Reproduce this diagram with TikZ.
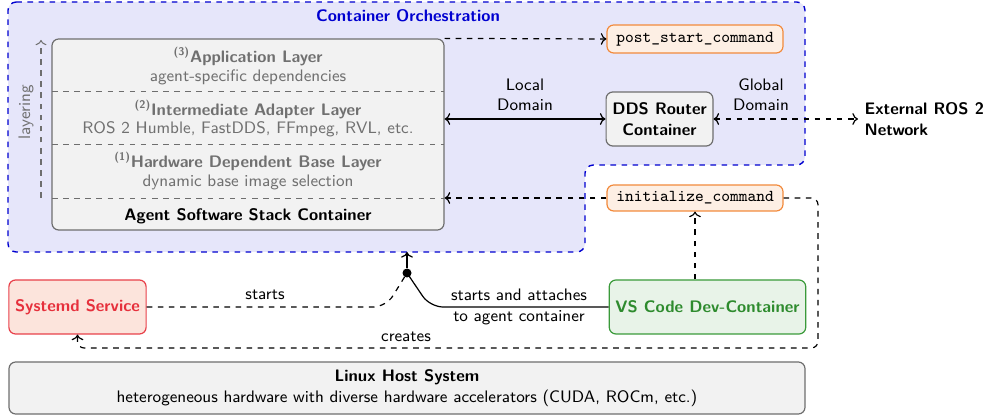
\documentclass[tikz,border=0pt]{standalone}
\usetikzlibrary{arrows.meta,calc}
\definecolor{orchfill}{HTML}{E6E6FA}
\definecolor{orchblue}{HTML}{0000D0}
\definecolor{boxfill}{HTML}{F2F2F2}
\definecolor{boxdraw}{HTML}{6E6E6E}
\definecolor{laytext}{HTML}{707070}
\definecolor{orfill}{HTML}{FDEFE4}
\definecolor{ordraw}{HTML}{F28A3C}
\definecolor{redfill}{HTML}{FCE4DC}
\definecolor{reddraw}{HTML}{E8404A}
\definecolor{redtext}{HTML}{E6303C}
\definecolor{grfill}{HTML}{E8F3E8}
\definecolor{grdraw}{HTML}{3A9A3A}
\definecolor{grtext}{HTML}{2E8B2E}
\newcommand\pxu{0.54pt}
\tikzset{
  graybox/.style={draw=boxdraw, fill=boxfill, rounded corners=3.6pt, line width=0.65pt, align=center},
  orbox/.style={draw=ordraw, fill=orfill, rounded corners=3.6pt, line width=0.65pt, font=\small\ttfamily},
  redbox/.style={draw=reddraw, fill=redfill, rounded corners=3.6pt, line width=0.65pt, text=redtext, font=\small\sffamily\bfseries},
  grbox/.style={draw=grdraw, fill=grfill, rounded corners=3.6pt, line width=0.65pt, text=grtext, font=\small\sffamily\bfseries},
  laytitle/.style={text=laytext, font=\small\sffamily\bfseries},
  laysub/.style={text=laytext},
  conn/.style={line width=0.65pt},
  dconn/.style={line width=0.65pt, dashed},
  sepline/.style={draw=boxdraw, dashed, line width=0.5pt},
}
\begin{document}
\begin{tikzpicture}[x=0.54pt, y=-0.54pt, font=\small\sffamily]
\useasboundingbox (0,0) rectangle (989,419);
% orchestration region
\draw[fill=orchfill, draw=orchblue, dashed, line width=0.75pt, rounded corners=4.5pt]
  (8,2) -- (805,2) -- (805,165) -- (585,165) -- (585,252) -- (8,252) -- cycle;
\node[text=orchblue, font=\small\sffamily\bfseries] (orchtitle) at (408,16) {Container Orchestration};
\coordinate (orchbot) at (407,252);

% agent stack
\node[graybox, minimum width=392*\pxu, minimum height=191*\pxu] (agent) at (248,134.5) {};
\draw[sepline] (52,91) -- (444,91);
\draw[sepline] (52,144) -- (444,144);
\draw[sepline] (52,198) -- (444,198);
\node[laytitle] (l3t) at (248,57) {\textsuperscript{(3)}Application Layer};
\node[laysub] (l3s) at (248,77) {agent-specific dependencies};
\node[laytitle] (l2t) at (248,110) {\textsuperscript{(2)}Intermediate Adapter Layer};
\node[laysub] (l2s) at (248,129) {ROS 2 Humble, FastDDS, FFmpeg, RVL, etc.};
\node[laytitle] (l1t) at (248,162) {\textsuperscript{(1)}Hardware Dependent Base Layer};
\node[laysub] (l1s) at (248,182) {dynamic base image selection};
\node[font=\small\sffamily\bfseries] (agentlabel) at (248,216) {Agent Software Stack Container};

% layering
\coordinate (layb) at (41,198);
\coordinate (layt) at (41,40);
\draw[draw=boxdraw, dashed, line width=0.55pt, ->] (layb) -- (layt);
\node[rotate=90, text=laytext] (laylabel) at (26,112) {layering};

% right side nodes
\node[orbox, minimum width=176*\pxu, minimum height=28*\pxu] (post) at (695,39) {post\_start\_command};
\node[graybox, minimum width=105*\pxu, minimum height=54*\pxu, font=\small\sffamily\bfseries] (dds) at (659.5,119) {DDS Router\\Container};
\node[anchor=west, align=left, font=\small\sffamily\bfseries] (ext) at (858,119) {External ROS 2\\Network};
\node[orbox, minimum width=176*\pxu, minimum height=26*\pxu] (init) at (695,198) {initialize\_command};

% bottom nodes
\node[redbox, minimum width=135*\pxu, minimum height=54*\pxu] (systemd) at (77.5,307) {Systemd Service};
\node[grbox, minimum width=195*\pxu, minimum height=54*\pxu] (vscode) at (707.5,307) {VS Code Dev-Container};
\node[graybox, minimum width=796*\pxu, minimum height=52*\pxu] (linux) at (407,388) {\textbf{Linux Host System}\\heterogeneous hardware with diverse hardware accelerators (CUDA, ROCm, etc.)};
\node[circle, fill=black, inner sep=0pt, minimum size=9*\pxu] (dot) at (407,273) {};

% connectors
\draw[dconn, ->] (agent.north east) -- (post.west);
\draw[conn, <->] (dds.west -| agent.east) -- (dds.west);
\node[align=center] (loclabel) at (525,95) {Local\\Domain};
\draw[dconn, <->] (dds.east) -- (ext.west);
\node[align=center] (glolabel) at (761,95) {Global\\Domain};
\draw[dconn, ->] (init.west) -- (init.west -| agent.east);
\draw[dconn, ->, rounded corners=3.6pt] (init.east) -| (818,348) -| (systemd.south);
\node (createlabel) at (406,337) {creates};
\draw[dconn, ->] (vscode.north -| init.south) -- (init.south);
\draw[conn, ->] (dot) -- (orchbot);
\draw[conn, rounded corners=7pt] (vscode.west) -- (430,307) -- (dot.center);
\node[align=center] (vslabel) at (519,307) {starts and attaches\\to agent container};
\draw[dconn, rounded corners=7pt] (systemd.east) -- (386,307) -- (dot.center);
\node (startlabel) at (265,295) {starts};
\end{tikzpicture}
\end{document}
